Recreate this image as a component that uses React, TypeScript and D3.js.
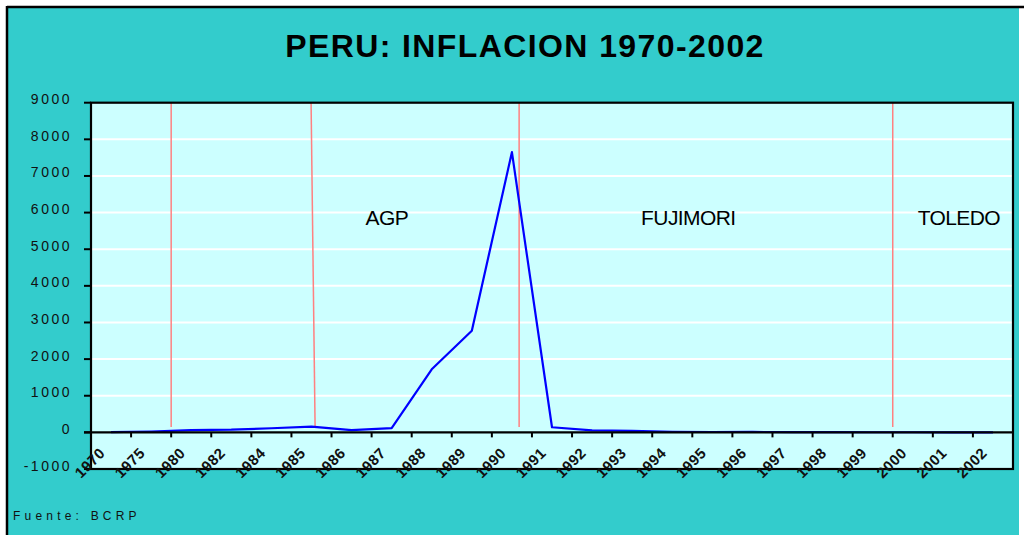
import React from "react";
import * as d3 from "d3";

const years = ["1970","1975","1980","1982","1984","1985","1986","1987","1988","1989","1990","1991","1992","1993","1994","1995","1996","1997","1998","1999","2000","2001","2002"];
const inflation = [5, 24, 61, 73, 112, 158, 63, 115, 1722, 2775, 7650, 139, 57, 40, 15, 10, 12, 6.5, 6, 3.7, 3.7, -0.1, 1.5];
const yTicks = [-1000, 0, 1000, 2000, 3000, 4000, 5000, 6000, 7000, 8000, 9000];
// government change markers, in category-index units (top, bottom)
const periodLines = [
  { top: 1.5, bottom: 1.5 },
  { top: 4.99, bottom: 5.09 },
  { top: 10.18, bottom: 10.18 },
  { top: 19.5, bottom: 19.5 },
];
const periodLabels = [
  { name: "AGP", at: 6.88 },
  { name: "FUJIMORI", at: 14.4 },
  { name: "TOLEDO", at: 21.15 },
];
const title = "PERU: INFLACION 1970-2002";
const source = "Fuente: BCRP";

const W = 1024, H = 535;
const plot = { left: 91, right: 1013, top: 102.7, bottom: 469 };

export default function App() {
  const x = d3.scaleLinear().domain([-0.5, years.length - 0.5]).range([plot.left, plot.right]);
  const y = d3.scaleLinear().domain([-1000, 9000]).range([plot.bottom, plot.top]);
  const line = d3.line<number>().x((_, i) => x(i)).y((d) => y(d));
  const font = "'Liberation Sans', Arial, sans-serif";
  const y0 = y(0);

  return (
    <svg width={W} height={H} style={{ position: "absolute", left: 0, top: 0 }} fontFamily={font}>
      <rect x={0} y={0} width={W} height={H} fill="#ffffff" />
      <rect x={7} y={7} width={1012} height={H} fill="#33CCCC" />
      <line x1={7} x2={W} y1={7} y2={7} stroke="#000" strokeWidth={2.5} />
      <line x1={7} x2={7} y1={6} y2={H} stroke="#000" strokeWidth={2.5} />

      <text x={525} y={57} textAnchor="middle" fontSize={32} fontWeight="bold" letterSpacing={1.4}>{title}</text>

      <rect x={plot.left} y={plot.top} width={plot.right - plot.left} height={plot.bottom - plot.top} fill="#CCFFFF" />
      {yTicks.filter((t) => t !== 0 && t !== -1000 && t !== 9000).map((t) => (
        <line key={t} x1={plot.left} x2={plot.right} y1={y(t)} y2={y(t)} stroke="#ffffff" strokeWidth={2} />
      ))}

      {periodLines.map((p, i) => (
        <line key={i} x1={x(p.top)} x2={x(p.bottom)} y1={y(9000)} y2={y(150)} stroke="#FF8080" strokeWidth={1.5} />
      ))}

      {periodLabels.map((p) => (
        <text key={p.name} x={x(p.at)} y={y(5650)} textAnchor="middle" fontSize={21} letterSpacing={-0.6}>{p.name}</text>
      ))}

      <path d={line(inflation) || ""} fill="none" stroke="#0000FF" strokeWidth={2.2} strokeLinejoin="round" />

      {/* plot border */}
      <rect x={plot.left} y={plot.top} width={plot.right - plot.left} height={plot.bottom - plot.top} fill="none" stroke="#000" strokeWidth={2.2} />
      {/* x axis at zero */}
      <line x1={plot.left - 7} x2={plot.right} y1={y0} y2={y0} stroke="#000" strokeWidth={2.2} />
      {years.slice(0, -1).map((_, i) => (
        <line key={i} x1={x(i + 0.5)} x2={x(i + 0.5)} y1={y0} y2={y0 + 5} stroke="#000" strokeWidth={2} />
      ))}
      {/* y ticks */}
      {yTicks.map((t) => (
        <g key={t}>
          <line x1={plot.left - 7} x2={plot.left} y1={y(t)} y2={y(t)} stroke="#000" strokeWidth={2} />
          <text x={72} y={y(t) + 1.5} textAnchor="end" fontSize={14} letterSpacing={2.5} fill="#111">{t}</text>
        </g>
      ))}
      {/* x labels */}
      {years.map((yr, i) => (
        <text key={yr} transform={`translate(${x(i) - 5},${454}) rotate(-45)`} textAnchor="end" fontSize={15} fontWeight="bold" letterSpacing={0.5} fill="#111">{yr}</text>
      ))}

      <text x={13} y={520} fontSize={12} letterSpacing={4.2} fill="#111">{source}</text>
    </svg>
  );
}
